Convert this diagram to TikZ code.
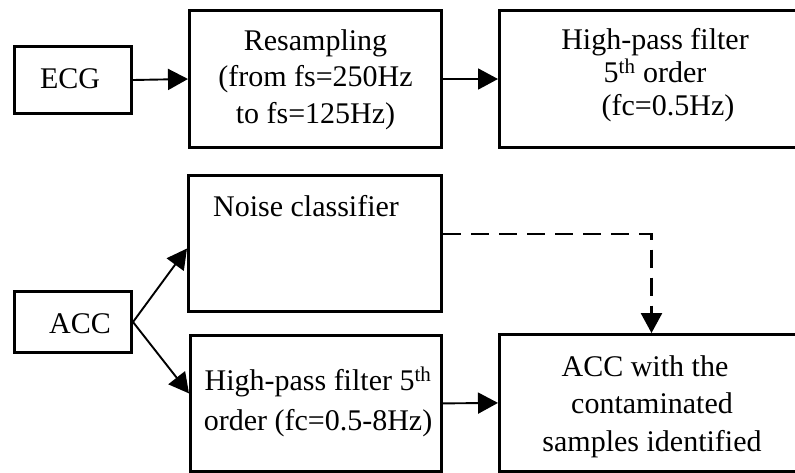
\documentclass[tikz,border=0pt]{standalone}
\usepackage{fontspec}
\setmainfont{Liberation Serif}
\usetikzlibrary{arrows.meta}
\begin{document}
\begin{tikzpicture}[x=1pt,y=-1pt,
  box/.style={draw, line width=2.6pt, rectangle, inner sep=0pt},
  txt/.style={inner sep=0pt, align=center, font=\fontsize{30}{#1}\selectfont},
  txt/.default=36.5,
  arr/.style={line width=1.9pt, -{Triangle[length=20pt,width=21pt]}},
  dsh/.style={line width=2.5pt, dash pattern=on 18pt off 10pt, -{Triangle[length=20pt,width=21pt]}}]
\useasboundingbox (0,0) rectangle (795,472);
\clip (0,0) rectangle (795,472);
% boxes
\node[box, minimum width=117.4pt, minimum height=67.4pt] (ecg) at (73,80) {};
\node[box, minimum width=252.4pt, minimum height=137.4pt] (res) at (315.5,79) {};
\node[box, minimum width=311.4pt, minimum height=137.4pt] (hpa) at (655,79) {};
\node[box, minimum width=253.4pt, minimum height=136.4pt] (noise) at (315,243.5) {};
\node[box, minimum width=117.4pt, minimum height=61.4pt] (acc) at (73,322) {};
\node[box, minimum width=251.4pt, minimum height=136.1pt] (hpb) at (316,403.4) {};
\node[box, minimum width=304.4pt, minimum height=137.1pt] (out) at (651.5,402.9) {};
% texts
\node[txt, anchor=base] (ecgT) at (70,88) {ECG};
\node[txt, anchor=north] (resT) at (315.5,28) {\rule{0pt}{22pt}Resampling\\(from fs=250Hz\\to fs=125Hz)};
\node[txt=33, anchor=north] (hpaT) at (655,27) {\rule{0pt}{22pt}High-pass filter\\5\textsuperscript{th} order\\\hspace*{26pt}(fc=0.5Hz)};
\node[txt, anchor=base] (noiseT) at (306,216) {Noise classifier};
\node[txt, anchor=base] (accT) at (80,333) {ACC};
\node[txt=40, anchor=north] (hpbT) at (318,367) {\rule{0pt}{22pt}High-pass filter 5\textsuperscript{th}\\order (fc=0.5-8Hz)};
\node[txt=37.5, anchor=north] (outT) at (652,354) {\rule{0pt}{22pt}ACC with the\hspace*{14pt}\\contaminated\\samples identified};
% connectors
\draw[arr] (ecg.east) -- (res.west);
\draw[arr] (res.east) -- (hpa.west);
\draw[arr] (acc.east) -- ([yshift=-5pt]noise.west);
\draw[arr] (acc.east) -- ([yshift=10pt]hpb.west);
\draw[arr] (hpb.east) -- (out.west);
\draw[dsh] ([yshift=9.5pt]noise.east) -| (out.north);
\end{tikzpicture}
\end{document}
